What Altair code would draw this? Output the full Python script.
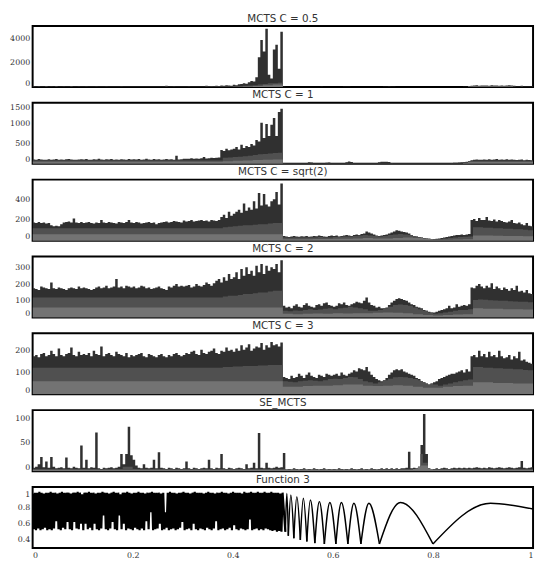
import altair as alt
import pandas as pd

# ---------------- data ----------------
# totals: 200 bins over [0,1]; mid (cumulative lower two layers): 100 bins; low: 50 bins
tot_c05 = [40,30,60,30,30,90,30,40,30,80,30,30,40,30,30,90,30,30,40,30,
           30,40,30,30,30,40,30,30,30,40,30,30,30,30,30,40,30,30,30,30,
           30,30,30,30,30,30,30,30,30,30,30,30,30,100,30,30,40,30,30,30,
           30,30,40,30,30,30,30,30,30,100,60,80,60,100,80,120,100,150,120,100,
           180,150,220,250,300,260,400,500,450,800,2430,3840,2900,4780,1000,700,3080,3470,1500,4520,
           20,10,10,10,10,10,10,10,10,10,10,10,10,10,10,20,10,10,10,10,
           10,10,10,10,20,30,20,10,10,10,10,10,10,10,10,10,10,10,10,10,
           20,30,40,30,20,10,10,10,10,10,10,10,10,10,10,10,10,10,10,10,
           10,10,10,10,10,10,10,10,10,10,10,10,20,30,60,100,120,140,110,130,
           120,130,110,140,120,130,110,120,100,120,140,120,100,30,30,100,30,30,20,20]
mid_c05 = [20]*40 + [60,80,100,120,150,200,250,300,300,350] + [8]*37 + [60,90,90,90,90,90,90,90,90] + [15,15,15,15]
low_c05 = [10]*21 + [40,80,150,200] + [5]*18 + [40,50,50,50,40] + [10,10]

tot_c1 = [110,100,120,110,100,105,115,100,110,120,105,110,100,115,120,110,105,100,110,115,
          110,120,105,100,115,110,125,110,100,115,110,120,105,110,100,115,110,105,120,110,
          115,110,120,105,110,125,110,100,120,110,115,105,110,120,110,115,105,200,110,115,
          130,130,125,140,130,135,130,140,170,135,140,150,145,150,160,350,320,380,340,360,
          380,420,360,480,400,450,420,500,460,600,560,1030,650,1000,700,980,1150,700,1300,1380,
          20,15,15,15,15,15,15,15,15,15,40,35,15,15,15,15,15,30,35,15,
          15,15,15,15,15,40,60,45,15,15,15,15,15,15,15,15,15,15,40,50,
          55,50,45,20,15,15,15,15,15,15,15,15,15,15,15,15,15,15,15,15,
          15,15,15,15,15,15,15,20,25,30,35,40,45,50,70,90,100,110,100,105,
          110,100,115,105,110,120,100,110,105,115,100,110,105,95,100,110,90,100,95,90]
mid_c1 = [85]*38 + [150,160,170,180,190,200,220,240,250,260,270,280] + [12]*36 + [30] + [75]*13
low_c1 = [55]*19 + [65,75,85,95,100,110] + [8]*18 + [45]*7

tot_sq2 = [175,170,180,170,175,165,170,150,140,145,140,160,175,180,185,175,215,175,170,180,
           170,175,180,170,165,175,170,200,175,170,180,175,170,165,180,175,170,180,200,175,
           170,180,175,165,170,175,180,170,175,160,170,175,180,185,175,180,190,185,180,175,
           195,185,190,200,185,190,195,200,190,195,185,200,195,190,200,230,250,220,280,240,
           260,280,300,270,360,290,320,300,380,310,460,340,450,350,330,380,400,470,350,553,
           45,40,35,40,45,40,38,42,40,45,38,40,45,42,50,45,40,38,45,50,
           45,50,40,45,50,55,50,45,55,60,55,65,70,90,80,70,60,50,45,50,
           55,60,70,80,90,100,95,90,85,80,70,55,45,40,35,30,25,20,18,15,
           15,18,20,25,30,35,40,45,50,55,55,60,55,60,65,200,210,190,220,200,
           200,230,195,190,205,185,200,190,180,175,185,200,170,165,175,160,150,170,145,140]
mid_sq2 = ([120]*38 + [130,135,140,145,150,150,155,160,160,165,170,170] +
           [30,28,30,32,30,30,32,35,30,32,35,38,40,40,45,50,55,50,45,40,
            45,55,60,65,60,55,45,35,25,20,15,15,20,25,30,35,38,40] +
           [130,130,125,125,120,120,115,115,110,110,105,100])
low_sq2 = [62]*25 + [15,15,15,16,16,18,18,20,25,22,20,25,30,25,18,10,10,12,15] + [50,50,48,46,45,44]

tot_c2 = [175,170,165,185,180,175,170,210,175,170,180,175,170,165,175,180,175,170,185,175,
          180,175,170,165,170,180,185,175,180,190,175,180,185,230,180,185,175,190,185,180,
          185,175,180,190,185,175,180,170,175,180,185,175,170,165,185,180,190,200,185,190,
          185,190,195,180,185,200,190,185,195,210,200,190,205,220,230,210,240,220,260,230,
          240,270,230,290,250,300,260,280,250,310,270,320,260,310,280,300,290,320,270,342,
          70,60,65,55,70,80,65,60,75,85,70,65,60,75,80,70,85,90,75,70,
          65,70,85,80,90,75,70,80,85,95,90,85,100,120,90,75,70,60,65,55,
          55,60,75,90,100,110,115,110,105,100,90,80,75,65,60,55,45,40,35,30,
          30,35,40,45,50,55,70,55,60,80,65,70,75,70,80,180,175,190,200,185,
          175,190,180,205,170,185,175,165,180,170,160,175,165,190,155,160,150,165,145,140]
mid_c2 = ([120]*38 + [125,130,130,135,140,140,145,150,150,155,160,160] +
          [40,38,42,40,45,50,45,48,52,55,50,55,58,65,60,55,50,40,40,45,
           55,65,75,78,75,70,60,50,40,30,22,25,30,35,40,45,45,50] +
          [105,108,106,104,102,100,100,98,96,95,95,92])
low_c2 = [60]*25 + [22,20,22,24,22,25,24,26,25,28,30,28,25,20,15,12,15,18,20] + [55,52,52,50,50,48]

tot_c3 = [175,180,170,185,190,175,180,200,185,175,210,180,175,185,190,215,180,175,195,180,
          185,180,190,175,200,185,180,220,175,185,190,180,175,195,185,180,175,190,170,180,
          175,180,185,190,175,170,185,180,175,170,180,185,175,170,180,175,185,190,180,175,
          180,190,185,195,200,185,180,205,190,185,195,200,210,190,185,200,195,215,200,205,
          195,210,200,225,205,215,230,200,210,220,215,235,205,225,215,240,225,230,220,238,
          80,75,70,85,75,80,95,85,75,90,100,85,80,75,90,85,80,95,90,85,
          90,95,85,100,90,85,95,100,110,105,120,115,110,125,105,90,80,70,65,60,
          65,75,90,100,110,115,110,115,105,100,95,90,85,75,70,60,55,50,45,50,
          55,60,70,75,80,85,90,95,95,100,105,110,100,115,105,175,180,170,200,175,
          185,170,195,175,180,170,200,175,165,170,180,160,175,165,195,155,160,150,145,140]
mid_c3 = ([122]*38 + [125,125,128,128,130,130,130,132,132,135,135,135] +
          [60,58,55,60,62,65,62,60,65,70,72,70,75,80,78,70,60,55,50,55,
           65,72,78,80,78,75,70,65,60,55,45,40,45,50,55,60,65,68] +
          [125,125,122,122,120,120,118,118,115,115,112,110])
low_c3 = [60]*25 + [35,35,38,40,40,42,45,45,40,38,40,42,40,35,30,30,35,38,40] + [55,55,52,52,50,50]

tot_se = [6,8,12,25,7,17,6,25,8,5,6,7,5,24,6,5,8,6,5,45,
          6,20,5,7,6,68,5,4,6,5,6,7,5,6,8,30,12,30,78,28,
          20,10,6,5,12,6,5,6,20,5,33,6,5,4,6,5,4,6,5,4,
          5,17,5,4,6,5,4,5,6,5,20,5,4,6,5,30,5,4,6,5,
          4,5,6,5,4,12,5,6,15,5,67,6,5,15,6,5,6,8,6,7,
          32,3,4,3,5,4,3,4,5,3,4,3,5,4,3,4,5,3,4,3,
          4,3,5,4,3,4,3,5,4,3,4,5,3,4,3,5,4,3,4,5,
          4,5,4,5,4,5,4,5,5,6,34,5,6,5,8,46,100,30,5,4,
          4,5,4,5,6,5,4,5,6,5,6,5,6,5,6,5,6,7,6,5,
          6,5,7,6,5,6,7,6,5,6,7,6,5,6,7,18,6,5,6,7]
mid_se = [4]*18 + [8,8] + [4]*57 + [30,15] + [4]*21
low_se = [2]*38 + [10,10] + [2]*10

# Function 3: dense part (alternating peaks / troughs), then resolved arches
f_peaks = [0.97,0.98,0.98,0.99,0.98,0.97,0.98,0.98,0.99,0.98,0.98,0.97,0.98,0.99,0.98,0.98,
           0.98,0.97,0.98,0.98,0.99,0.98,0.96,0.98,0.98,0.99,0.98,0.98,0.97,0.98,0.98,0.99,
           0.98,0.98,0.97,0.98,0.99,0.98,0.98,0.96,0.98,0.98,0.99,0.98,0.97,0.98,0.98,0.99,
           0.98,0.98,0.97,0.98,0.98,0.99,0.98,0.98,0.98,0.97,0.98,0.74,0.98,0.99,0.98,0.98,
           0.97,0.98,0.98,0.99,0.98,0.98,0.97,0.98,0.99,0.98,0.98,0.98,0.97,0.98,0.99,0.98,
           0.98,0.97,0.98,0.98,0.99,0.98,0.98,0.97,0.98,0.99,0.98,0.98,0.98,0.97,0.99,0.98,
           0.98,0.99,0.98,0.98,0.99,0.98,0.98,0.99,0.98,0.98,0.99,0.98,0.98,0.98,0.97,0.98]
f_troughs = [0.53,0.52,0.54,0.52,0.53,0.55,0.52,0.53,0.52,0.54,0.63,0.53,0.52,0.55,0.53,0.62,
             0.53,0.52,0.62,0.54,0.53,0.60,0.52,0.60,0.53,0.55,0.52,0.60,0.53,0.52,0.54,0.70,
             0.53,0.52,0.54,0.62,0.53,0.52,0.70,0.53,0.60,0.52,0.54,0.53,0.52,0.55,0.53,0.52,
             0.54,0.52,0.63,0.53,0.74,0.52,0.53,0.54,0.60,0.52,0.53,0.55,0.52,0.53,0.54,0.52,
             0.53,0.55,0.62,0.52,0.53,0.54,0.52,0.60,0.53,0.52,0.54,0.53,0.52,0.55,0.53,0.52,
             0.54,0.63,0.52,0.53,0.54,0.52,0.53,0.55,0.52,0.58,0.53,0.52,0.54,0.53,0.52,0.53,
             0.65,0.52,0.53,0.54,0.52,0.53,0.52,0.54,0.53,0.52,0.51,0.52,0.50,0.51,0.50]
cusp_x = [0.505, 0.511, 0.522, 0.535, 0.548, 0.564, 0.583, 0.606, 0.630, 0.656, 0.693, 0.800]
cusp_y = [0.50, 0.45, 0.42, 0.40, 0.38, 0.36, 0.35, 0.35, 0.35, 0.35, 0.35, 0.35]
peak_x = [0.508, 0.516, 0.528, 0.541, 0.555, 0.573, 0.594, 0.617, 0.642, 0.672, 0.735, 0.915]
peak_y = [0.97, 0.95, 0.93, 0.91, 0.89, 0.87, 0.86, 0.86, 0.85, 0.85, 0.86, 0.85]
end_x, end_y = 1.0, 0.78

titles = ["MCTS C = 0.5", "MCTS C = 1", "MCTS C = sqrt(2)", "MCTS C = 2", "MCTS C = 3", "SE_MCTS", "Function 3"]
x_ticks = [0, 0.2, 0.4, 0.6, 0.8, 1]

# ---------------- chart ----------------
W, H = 508, 62
C_TOP, C_MID, C_LOW = "#303030", "#505050", "#737373"
LABEL_FONT = "DejaVu Serif"


def step_df(vals):
    n = len(vals)
    xs = [i / n for i in range(n)] + [1.0]
    ys = list(vals) + [vals[-1]]
    return pd.DataFrame({"x": xs, "v": ys})


def hist_panel(title, tot, mid, low, ymax, ticks):
    n = len(tot)
    mid_f = [min(mid[i * len(mid) // n], tot[i]) for i in range(n)]
    low_f = [min(low[i * len(low) // n], mid_f[i]) for i in range(n)]
    xsc = alt.Scale(domain=[0, 1], nice=False, zero=False)
    ysc = alt.Scale(domain=[0, ymax], nice=False)
    yax = alt.Axis(values=ticks, format="d", title=None, grid=False, ticks=False, domain=False,
                   labelPadding=3, labelFlush=5)
    layers = []
    for vals, col in ((tot, C_TOP), (mid_f, C_MID), (low_f, C_LOW)):
        layers.append(
            alt.Chart(step_df(vals)).mark_area(interpolate="step-after", color=col, clip=True).encode(
                x=alt.X("x:Q", scale=xsc, axis=None),
                y=alt.Y("v:Q", scale=ysc, axis=yax),
            )
        )
    return alt.layer(*layers).properties(width=W, height=H, title=title)


panels = [
    hist_panel(titles[0], tot_c05, mid_c05, low_c05, 5000, [0, 2000, 4000]),
    hist_panel(titles[1], tot_c1, mid_c1, low_c1, 1530, [0, 500, 1000, 1500]),
    hist_panel(titles[2], tot_sq2, mid_sq2, low_sq2, 590, [0, 200, 400]),
    hist_panel(titles[3], tot_c2, mid_c2, low_c2, 365, [0, 100, 200, 300]),
    hist_panel(titles[4], tot_c3, mid_c3, low_c3, 280, [0, 100, 200]),
    hist_panel(titles[5], tot_se, mid_se, low_se, 107, [0, 50, 100]),
]

# function panel
step = 0.0045
dense_rows = []
for i, p in enumerate(f_peaks):
    dense_rows.append({"x": i * step, "y": p})
    if i < len(f_troughs):
        dense_rows.append({"x": i * step + step / 2, "y": f_troughs[i]})
dense_rows.append({"x": cusp_x[0], "y": cusp_y[0]})
dense_df = pd.DataFrame(dense_rows)

arch_rows = []
for k in range(len(cusp_x)):
    nx = cusp_x[k + 1] if k + 1 < len(cusp_x) else end_x
    ny = cusp_y[k + 1] if k + 1 < len(cusp_y) else end_y
    for xx, yy in ((cusp_x[k], cusp_y[k]), (peak_x[k], peak_y[k]), (nx, ny)):
        arch_rows.append({"x": xx, "y": yy, "seg": k})
arch_df = pd.DataFrame(arch_rows)

fx = alt.X("x:Q", scale=alt.Scale(domain=[0, 1], nice=False, zero=False),
           axis=alt.Axis(values=x_ticks, format="~g", title=None, grid=False, ticks=False,
                         domain=False, labelPadding=4))
fy = alt.Y("y:Q", scale=alt.Scale(domain=[0.3, 1.05], nice=False, zero=False),
           axis=alt.Axis(values=[0.4, 0.6, 0.8, 1], format="~g", title=None, grid=False,
                         ticks=False, domain=False, labelPadding=3, labelFlush=5))
dense_line = alt.Chart(dense_df).mark_line(color="black", strokeWidth=2.2, clip=True).encode(x=fx, y=fy)
arch_line = alt.Chart(arch_df).mark_line(color="black", strokeWidth=1.5, interpolate="monotone", clip=True).encode(
    x=fx, y=fy, detail="seg:N")
func_panel = alt.layer(dense_line, arch_line).properties(width=W, height=H, title=titles[6])

chart = (
    alt.vconcat(*panels, func_panel, spacing=16, bounds="flush")
    .properties(padding={"left": 0, "top": 0, "right": 2, "bottom": 0})
    .configure_view(stroke="black", strokeWidth=2)
    .configure_axis(labelFont=LABEL_FONT, labelFontSize=8, labelColor="#333333")
    .configure_title(font="DejaVu Sans", fontSize=10.5, fontWeight="normal", color="#333333", offset=2)
)

chart.save("out.html", embed_options={"renderer": "svg", "actions": False})
